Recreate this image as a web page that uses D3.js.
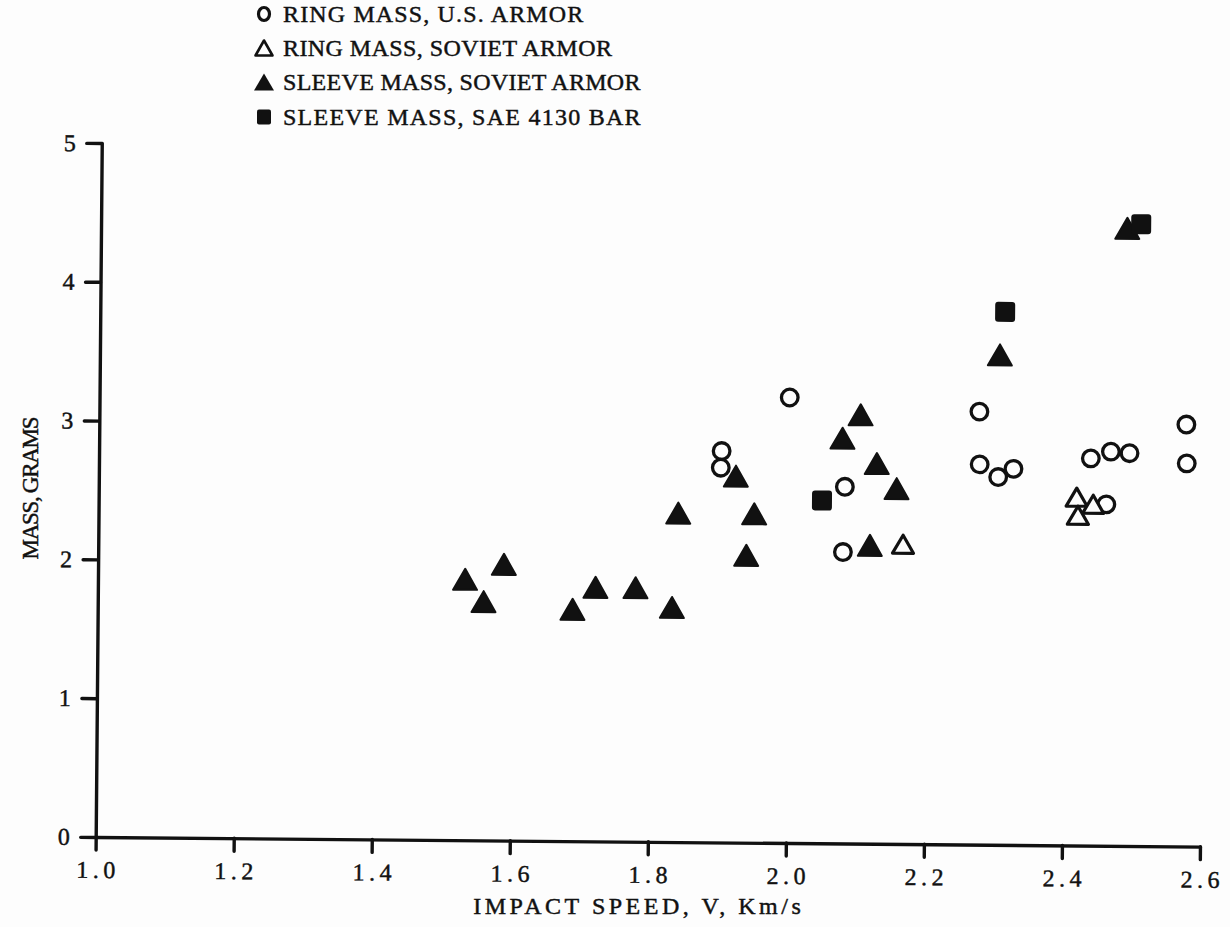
<!DOCTYPE html>
<html>
<head>
<meta charset="utf-8">
<script src="https://cdn.jsdelivr.net/npm/d3@7"></script>
<style>
  html, body { margin: 0; padding: 0; background: #fdfdfd; }
  svg { display: block; }
  text { font-family: "Liberation Serif", "DejaVu Serif", serif; fill: #111; stroke: #111; stroke-width: 0.45px; }
</style>
</head>
<body>
<svg id="chart" width="1230" height="927"></svg>
<script>
// ---- Data ----
const xTicks = [1.0, 1.2, 1.4, 1.6, 1.8, 2.0, 2.2, 2.4, 2.6];
const yTicks = [0, 1, 2, 3, 4, 5];

const ringUSSpeed = [1.902, 1.901, 2.000, 2.081, 2.079, 2.275, 2.276, 2.303, 2.325, 2.437, 2.466, 2.493, 2.460, 2.575, 2.576];
const ringUSMass  = [2.82, 2.70, 3.21, 2.57, 2.10, 3.12, 2.74, 2.65, 2.71, 2.79, 2.84, 2.83, 2.46, 3.04, 2.76];

const ringSovSpeed = [2.166, 2.417, 2.441, 2.419];
const ringSovMass  = [2.16, 2.51, 2.46, 2.38];

const sleeveSovSpeed = [1.532, 1.559, 1.588, 1.688, 1.721, 1.779, 1.832, 1.840, 1.923, 1.950, 1.939, 2.077, 2.103, 2.127, 2.156, 2.118, 2.304, 2.487];
const sleeveSovMass  = [1.88, 1.72, 1.99, 1.67, 1.83, 1.83, 1.69, 2.37, 2.64, 2.37, 2.07, 2.92, 3.09, 2.74, 2.56, 2.15, 3.53, 4.45];

const sleeveSAESpeed = [2.048, 2.311, 2.507];
const sleeveSAEMass  = [2.47, 3.84, 4.48];

const legendLabels = [
  "RING MASS, U.S. ARMOR",
  "RING MASS, SOVIET ARMOR",
  "SLEEVE MASS, SOVIET ARMOR",
  "SLEEVE MASS, SAE 4130 BAR"
];
const xTitle = "IMPACT SPEED, V, Km/s";
const yTitle = "MASS, GRAMS";

// ---- Layout ----
const ox = 95.7, oy = 837;      // origin of the axes
const xEnd = 1200, yTop = 143;
const tilt = 0.5;               // scanned page is slightly rotated

const svg = d3.select("#chart");
const x = d3.scaleLinear().domain([1.0, 2.6]).range([ox, xEnd]);
const y = d3.scaleLinear().domain([0, 5]).range([oy, yTop]);

const plot = svg.append("g").attr("transform", `rotate(${tilt},${ox},${oy})`);

const ink = "#111";

// axes
const xAxis = d3.axisBottom(x).tickValues(xTicks).tickFormat(d3.format(".1f"))
  .tickSize(13).tickSizeOuter(0).tickPadding(11);
const yAxis = d3.axisLeft(y).tickValues(yTicks).tickFormat(d3.format("d"))
  .tickSize(15).tickSizeOuter(0).tickPadding(11);

const gx = plot.append("g").attr("transform", `translate(0,${oy})`).call(xAxis);
const gy = plot.append("g").attr("transform", `translate(${ox},0)`).call(yAxis);

[gx, gy].forEach(g => {
  g.select(".domain").attr("stroke", ink).attr("stroke-width", 3.4).attr("stroke-linecap", "round");
  g.selectAll(".tick line").attr("stroke", ink).attr("stroke-width", 3.4).attr("stroke-linecap", "round");
  g.selectAll(".tick text")
    .attr("fill", ink)
    .style("font-family", '"Liberation Serif", serif')
    .style("font-size", "24px");
});
gx.selectAll(".tick text").each(function() {
  const t = d3.select(this);
  t.attr("textLength", t.text().length * 13).attr("lengthAdjust", "spacing");
});

// marker shapes
function triPath(w, h) {
  return `M0,${-h/2}L${w/2},${h/2}L${-w/2},${h/2}Z`;
}

// Ring mass, U.S. armor — open circles
plot.append("g").selectAll("circle")
  .data(d3.zip(ringUSSpeed, ringUSMass)).join("circle")
  .attr("cx", d => x(d[0])).attr("cy", d => y(d[1])).attr("r", 8.3)
  .attr("fill", "none").attr("stroke", ink).attr("stroke-width", 3.3);

// Ring mass, Soviet armor — open triangles
plot.append("g").selectAll("path")
  .data(d3.zip(ringSovSpeed, ringSovMass)).join("path")
  .attr("transform", d => `translate(${x(d[0])},${y(d[1])})`)
  .attr("d", triPath(21, 18))
  .attr("fill", "#fdfdfd").attr("stroke", ink).attr("stroke-width", 3.2).attr("stroke-linejoin", "round");

// Sleeve mass, Soviet armor — filled triangles
plot.append("g").selectAll("path")
  .data(d3.zip(sleeveSovSpeed, sleeveSovMass)).join("path")
  .attr("transform", d => `translate(${x(d[0])},${y(d[1])})`)
  .attr("d", triPath(24, 21))
  .attr("fill", ink).attr("stroke", ink).attr("stroke-width", 2).attr("stroke-linejoin", "round");

// Sleeve mass, SAE 4130 bar — filled squares
plot.append("g").selectAll("rect")
  .data(d3.zip(sleeveSAESpeed, sleeveSAEMass)).join("rect")
  .attr("x", d => x(d[0]) - 10).attr("y", d => y(d[1]) - 10)
  .attr("width", 20).attr("height", 20).attr("rx", 3)
  .attr("fill", ink);

// axis titles
svg.append("text")
  .attr("x", 637).attr("y", 914)
  .attr("text-anchor", "middle")
  .attr("textLength", xTitle.length * 15.6).attr("lengthAdjust", "spacing")
  .style("font-size", "24px")
  .text(xTitle);

svg.append("text")
  .attr("transform", "translate(38,488) rotate(-90)")
  .attr("text-anchor", "middle")
  .attr("textLength", yTitle.length * 13).attr("lengthAdjust", "spacing")
  .style("font-size", "23px")
  .text(yTitle);

// legend
const legendX = 264, textX = 283;
const legendY = [14, 48, 82, 117];
const lg = svg.append("g");
legendLabels.forEach((lab, i) => {
  const cy = legendY[i];
  lg.append("text")
    .attr("x", textX).attr("y", cy + 8)
    .attr("textLength", lab.length * 14.3).attr("lengthAdjust", "spacing")
    .style("font-size", "24px")
    .text(lab);
});
lg.append("ellipse").attr("cx", legendX).attr("cy", legendY[0]).attr("rx", 5.5).attr("ry", 6.5)
  .attr("fill", "none").attr("stroke", ink).attr("stroke-width", 3.2);
lg.append("path").attr("transform", `translate(${legendX},${legendY[1]})`).attr("d", triPath(17, 15))
  .attr("fill", "none").attr("stroke", ink).attr("stroke-width", 2.6).attr("stroke-linejoin", "round");
lg.append("path").attr("transform", `translate(${legendX},${legendY[2]})`).attr("d", triPath(20, 17))
  .attr("fill", ink);
lg.append("rect").attr("x", legendX - 7).attr("y", legendY[3] - 7.5).attr("width", 14).attr("height", 15).attr("rx", 2)
  .attr("fill", ink);
</script>
</body>
</html>
